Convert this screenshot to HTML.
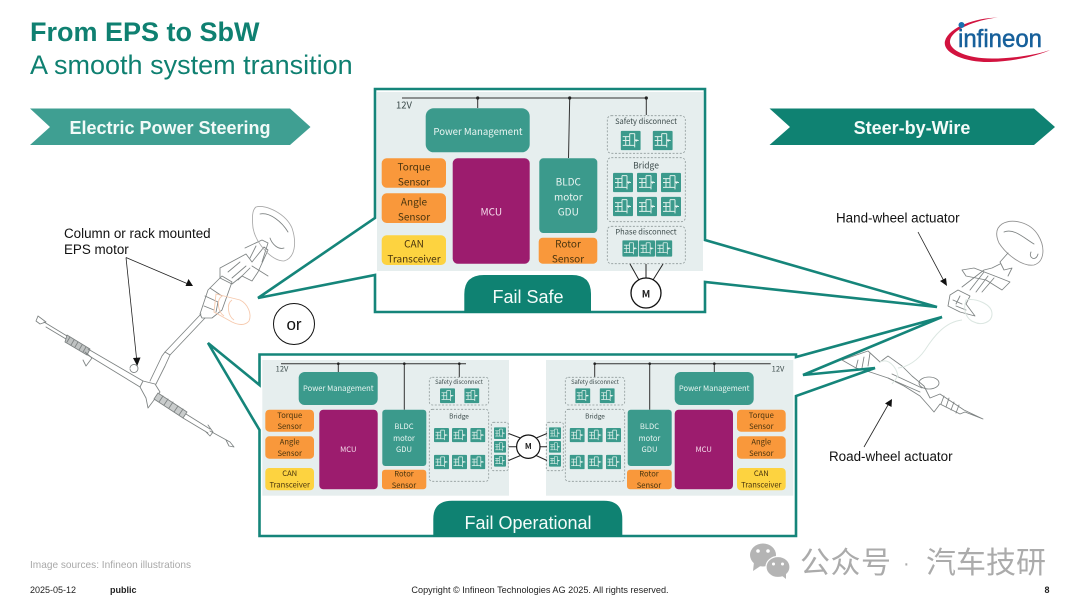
<!DOCTYPE html>
<html lang="en"><head><meta charset="utf-8"><title>From EPS to SbW</title>
<style>
html,body{margin:0;padding:0;background:#fff;width:1080px;height:606px;overflow:hidden}
svg{display:block}
text{font-family:"Liberation Sans","Noto Sans CJK SC",sans-serif}
.n text,text.n{font-family:"Noto Sans CJK SC","Liberation Sans",sans-serif;text-anchor:middle;dominant-baseline:central}
.w{fill:#eaf5f2}.k{fill:#4a3410}.d{fill:#3b4a4a}
.fr{fill:none;stroke:#15857a;stroke-width:2.6;stroke-linejoin:miter}
.box{fill:none;stroke:#8f9a9a;stroke-width:.8;stroke-dasharray:2 1.6}
.bus{stroke:#333;stroke-width:1;fill:none}
.m{fill:none;stroke:#7d8282;stroke-width:.85;stroke-linecap:round;stroke-linejoin:round}
.a{stroke:#222;stroke-width:.8;fill:none}
</style></head><body>
<svg width="1080" height="606" viewBox="0 0 1080 606" xmlns="http://www.w3.org/2000/svg">
<defs>
<filter id="bl" x="-2%" y="-2%" width="104%" height="104%"><feGaussianBlur stdDeviation=".3"/></filter>
<filter id="bm" x="-2%" y="-2%" width="104%" height="104%"><feGaussianBlur stdDeviation=".3"/></filter>
<symbol id="f" viewBox="0 0 20 20" preserveAspectRatio="none">
<rect width="20" height="20" rx="1.5" fill="#3a9a8c"/>
<path d="M2 6H9V3M9 3H14M14 3V17M2 10H9M2 15H14M9 6V15M14 10H18M5 6V15" stroke="#dff0ea" stroke-width="1" fill="none"/>
<path d="M14 9L17 9L15.5 11.5Z" fill="#eaf5f2"/>
</symbol>
</defs>

<rect width="1080" height="606" fill="#fff"/>

<!-- Title -->
<text x="30" y="41" font-size="27" font-weight="700" fill="#0f8071">From EPS to SbW</text>
<text x="30" y="74" font-size="27" fill="#0f8071">A smooth system transition</text>

<!-- Banners -->
<polygon points="30,108.5 290,108.5 310.5,127 290,145 30,145 50,127" fill="#3f9f92"/>
<text x="170" y="134" font-size="18" font-weight="700" fill="#f2faf8" text-anchor="middle">Electric Power Steering</text>
<polygon points="769.5,108.5 1034,108.5 1055,127 1034,145 769.5,145 790,127" fill="#0f8272"/>
<text x="912" y="134" font-size="18" font-weight="700" fill="#f4fbf9" text-anchor="middle">Steer-by-Wire</text>

<!-- Logo -->
<path d="M998 17.5C975 18 949 27 945 41C942 53 965 62.5 990 62C1015 61.5 1040 55 1050 50C1036 55 1012 58.5 992 58.5C966 58.5 949 50 950 41C951 30 975 20 998 17.5Z" fill="#d2133f"/>
<circle cx="961.5" cy="25" r="3" fill="#1a6fb0"/>
<text x="958" y="47" font-size="25" fill="#17609b" stroke="#17609b" stroke-width=".5" textLength="84" lengthAdjust="spacingAndGlyphs">infineon</text>

<!-- Left mechanical drawing -->
<g filter="url(#bm)">
<g class="m">
<path d="M38 316L46 322L40 324L36 321ZM44 322L67 336M46 327L66 339"/>
<path d="M67 335L90 349L87 355L65 342Z" fill="#bfc2c2"/>
<path d="M70 337L67 342M74 340L71 345M78 342L75 347M82 345L79 350M86 347L83 352"/>
<path d="M88 349L143 381L140 387L86 354"/>
<path d="M85 352L92 358L86 366L83 360M130 368a4 4 0 1 1 0 1"/>
<path d="M143 381L155 384L160 392L154 400L148 408L146 398L140 387"/>
<path d="M158 393L187 412L183 418L154 399Z" fill="#c9cccc"/>
<path d="M163 396L159 402M168 399L164 405M173 402L169 408M178 406L174 412M183 409L179 415"/>
<path d="M186 414L210 429M183 418L208 433M208 425L213 432L210 436L205 431M210 431L230 442L234 447L229 446L226 440"/>
<path d="M150 381L162 356L165 352L170 355L165 366L156 384"/>
<path d="M165 352L201 314M170 355L205 318"/>
<path d="M200 314L208 290L222 276L232 282L222 310L212 318L202 318Z"/>
<path d="M205 296L218 302L216 312M210 288L222 296M204 306L214 310"/>
<path d="M220 268L246 254L252 262L264 247L268 250L258 272L252 281L242 276L232 284L220 278Z"/>
<path d="M228 272L240 262M232 278L246 266M238 280L250 268"/>
<path d="M245 248L262 240L268 243L262 262M252 266L268 276M256 246L250 258"/>
<path d="M256 207C266 204 286 214 292 228C297 243 295 258 284 261C272 261 256 244 253 228C252 218 252 210 256 207Z" stroke="#a8a8a8"/>
<path d="M260 214C270 212 282 222 288 232M284 248C278 250 272 244 270 238"/>
</g>
<g fill="none" stroke="#f6c9ad" stroke-width=".9">
<path d="M216 294L240 300C248 304 252 314 249 321C245 326 238 325 232 322L214 312Z"/>
<path d="M222 296C216 300 218 312 224 316M232 300C226 304 228 316 234 320"/>
</g>

<!-- Right mechanical drawing -->
<g class="m">
<path d="M1002 224C1012 218 1030 222 1038 235C1046 248 1044 262 1034 265C1022 267 1006 254 999 243C995 234 996 228 1002 224Z" stroke="#8f8f8f"/>
<path d="M1004 232C1014 228 1024 238 1034 244M1031 252C1028 258 1036 262 1038 254"/>
<path d="M1008 253L1000 262L1004 270L1012 268L1008 276M1000 264L992 268L984 270L962 287"/>
<path d="M962 270L974 268L1000 278L1010 282L1002 290L986 280L966 276Z"/>
<path d="M970 290L984 272M976 292L988 276M982 292L994 278"/>
<path d="M950 295L958 290L970 296L966 304L975 316L960 312L948 306Z"/>
<path d="M953 300L962 304M956 306L966 310M960 296L956 304"/>
<path d="M842 360L868 351L880 362L888 356L902 366L912 376L924 386L930 398L940 394L964 410L983 419L965 412L960 414L940 404L934 412L928 405L920 396L904 386L888 378L870 372L856 368Z"/>
<ellipse cx="929" cy="383" rx="10" ry="6"/>
<path d="M888 378L920 392M892 374L922 388"/>
<path d="M944 396L941 404M949 398L946 407M954 402L951 410M959 405L956 413"/>
<path d="M858 360L856 368M864 357L862 368M870 353L868 366"/>
</g>
<g fill="none" stroke="#dbe6e1" stroke-width="1">
<path d="M966 300C976 298 992 304 992 314C992 322 982 326 974 322C968 320 962 312 966 300Z"/>
<path d="M962 320C945 322 934 336 925 350C918 360 908 367 898 368"/>
<path d="M880 362C888 358 896 366 898 376L892 384"/>
</g>
</g>

<!-- Fail Safe callout frame -->
<path class="fr" d="M375 218V89H705V240L937 307L705 282V312H375V275L258 298Z"/>

<!-- Fail Operational callout frame -->
<path class="fr" d="M259.5 385V354.5H796V357L942 317L803 375L875 368L796 396V536H259.5V430L208 343Z"/>

<!-- Fail Safe panel -->
<g filter="url(#bl)">
<rect x="377" y="92" width="326" height="179" fill="#e6eeee"/>
<path class="bus" d="M402 98H647M477.7 98V108M569.7 98L568.5 158M646.3 98V115"/>
<circle cx="477.7" cy="98" r="1.6" fill="#222"/><circle cx="569.7" cy="98" r="1.6" fill="#222"/><circle cx="646.3" cy="98" r="1.6" fill="#222"/>
<g class="n">
<text x="404" y="104.5" font-size="9.5" class="d">12V</text>
<rect x="425.7" y="108.3" width="104" height="44" rx="8" fill="#3a9a8c"/>
<text x="478" y="131" font-size="9.6" class="w">Power Management</text>
<rect x="381.7" y="158.3" width="64.3" height="29.4" rx="5" fill="#f9983a"/>
<text x="414" y="166" font-size="10" class="k">Torque</text><text x="414" y="181" font-size="10" class="k">Sensor</text>
<rect x="381.7" y="193.3" width="64.3" height="29.7" rx="5" fill="#f9983a"/>
<text x="414" y="201" font-size="10" class="k">Angle</text><text x="414" y="216" font-size="10" class="k">Sensor</text>
<rect x="381.7" y="235.3" width="64.3" height="29.7" rx="5" fill="#fdd33f"/>
<text x="414" y="243" font-size="10" class="k">CAN</text><text x="414" y="258" font-size="10" class="k">Transceiver</text>
<rect x="452.7" y="158.3" width="77" height="105.4" rx="5" fill="#9c1f6e"/>
<text x="491.3" y="211" font-size="10" fill="#f5dcec">MCU</text>
<rect x="539.3" y="158.3" width="58" height="74.7" rx="4" fill="#3a9a8c"/>
<text x="568.3" y="181" font-size="10" class="w">BLDC</text><text x="568.3" y="196" font-size="10" class="w">motor</text><text x="568.3" y="211" font-size="10" class="w">GDU</text>
<rect x="538.7" y="237.7" width="58.6" height="26" rx="4" fill="#f9983a"/>
<text x="568" y="243" font-size="10" class="k">Rotor</text><text x="568" y="258" font-size="10" class="k">Sensor</text>
<rect class="box" x="607.3" y="115.7" width="78" height="37.6" rx="4"/>
<text x="646" y="121.7" font-size="7.5" class="d">Safety disconnect</text>
<rect class="box" x="607.3" y="157.7" width="78" height="64" rx="4"/>
<text x="646" y="165.5" font-size="8.5" class="d">Bridge</text>
<rect class="box" x="607.3" y="226.3" width="78" height="37.4" rx="4"/>
<text x="646" y="232" font-size="7.5" class="d">Phase disconnect</text>
</g>
<use href="#f" x="620.7" y="130.7" width="20" height="19.6"/><use href="#f" x="652.7" y="130.7" width="20" height="19.6"/>
<use href="#f" x="613" y="172.7" width="20" height="19.6"/><use href="#f" x="637" y="172.7" width="20" height="19.6"/><use href="#f" x="661" y="172.7" width="20" height="19.6"/>
<use href="#f" x="613" y="196.7" width="20" height="19.6"/><use href="#f" x="637" y="196.7" width="20" height="19.6"/><use href="#f" x="661" y="196.7" width="20" height="19.6"/>
<use href="#f" x="622.3" y="240.3" width="16" height="16.4"/><use href="#f" x="639" y="240.3" width="16" height="16.4"/><use href="#f" x="655.7" y="240.3" width="16.6" height="16.4"/>
</g>
<path d="M464.3 313V294Q464.3 275 484 275H572Q591 275 591 294V313Z" fill="#0f8272"/>
<text x="528" y="303" font-size="18" fill="#f4fbf9" text-anchor="middle">Fail Safe</text>
<path d="M630 264L639 280M646 264V278M663 264L653 280" stroke="#222" stroke-width="1" fill="none"/>
<circle cx="646" cy="293" r="15" fill="#fff" stroke="#111" stroke-width="1.3"/>
<text class="n" x="646" y="293" font-size="10" font-weight="700" fill="#222">M</text>

<!-- Fail Operational left panel -->
<g filter="url(#bl)">
<rect x="262.3" y="360" width="246.7" height="135.7" fill="#e6eeee"/>
<path class="bus" d="M281 363.7H466M338.3 363.7V372M404.3 363.7V409.7M459.3 363.7V377.3"/>
<circle cx="338.3" cy="363.7" r="1.3" fill="#222"/><circle cx="404.3" cy="363.7" r="1.3" fill="#222"/><circle cx="459.3" cy="363.7" r="1.3" fill="#222"/>
<g class="n">
<text x="282" y="369" font-size="7.5" class="d">12V</text>
<rect x="298.7" y="372" width="79" height="33" rx="6" fill="#3a9a8c"/>
<text x="338.3" y="388.7" font-size="7.6" class="w">Power Management</text>
<rect x="265.3" y="409.7" width="48.7" height="22" rx="4" fill="#f9983a"/>
<text x="289.7" y="415.3" font-size="7.6" class="k">Torque</text><text x="289.7" y="426.7" font-size="7.6" class="k">Sensor</text>
<rect x="265.3" y="436.3" width="48.7" height="22.4" rx="4" fill="#f9983a"/>
<text x="289.7" y="442" font-size="7.6" class="k">Angle</text><text x="289.7" y="453.3" font-size="7.6" class="k">Sensor</text>
<rect x="265.3" y="468" width="48.7" height="22.3" rx="4" fill="#fdd33f"/>
<text x="289.7" y="473.7" font-size="7.6" class="k">CAN</text><text x="289.7" y="485" font-size="7.6" class="k">Transceiver</text>
<rect x="319.3" y="409.7" width="58.4" height="79.6" rx="4" fill="#9c1f6e"/>
<text x="348.3" y="449.7" font-size="7.6" fill="#f5dcec">MCU</text>
<rect x="382.3" y="409.7" width="44" height="56.3" rx="3" fill="#3a9a8c"/>
<text x="404" y="426.7" font-size="7.6" class="w">BLDC</text><text x="404" y="438.3" font-size="7.6" class="w">motor</text><text x="404" y="449.7" font-size="7.6" class="w">GDU</text>
<rect x="382" y="469.7" width="44.3" height="19.6" rx="3" fill="#f9983a"/>
<text x="404" y="474" font-size="7.6" class="k">Rotor</text><text x="404" y="485.3" font-size="7.6" class="k">Sensor</text>
<rect class="box" x="429.3" y="377.3" width="59.4" height="27.7" rx="3"/>
<text x="459" y="381.7" font-size="5.8" class="d">Safety disconnect</text>
<rect class="box" x="429.3" y="409.3" width="59.4" height="72" rx="3"/>
<text x="459" y="415.3" font-size="6.5" class="d">Bridge</text>
<rect class="box" x="491.3" y="422.3" width="17" height="48.4" rx="2"/>
</g>
<use href="#f" x="440" y="388.3" width="15" height="15"/><use href="#f" x="464.3" y="388.3" width="15" height="15"/>
<use href="#f" x="434" y="428" width="15" height="14.3"/><use href="#f" x="452" y="428" width="15" height="14.3"/><use href="#f" x="470.3" y="428" width="15" height="14.3"/>
<use href="#f" x="434" y="454.7" width="15" height="14.6"/><use href="#f" x="452" y="454.7" width="15" height="14.6"/><use href="#f" x="470.3" y="454.7" width="15" height="14.6"/>
<use href="#f" x="494" y="427.3" width="12" height="11.7"/><use href="#f" x="494" y="441" width="12" height="11.7"/><use href="#f" x="494" y="454.7" width="12" height="12"/>
</g>

<!-- Fail Operational right panel -->
<g filter="url(#bl)">
<rect x="546" y="360" width="247.3" height="135.7" fill="#e6eeee"/>
<path class="bus" d="M594.7 363.7H770.7M594.7 363.7V377.3M649.7 363.7V409.7M714.3 363.7V372"/>
<circle cx="594.7" cy="363.7" r="1.3" fill="#222"/><circle cx="649.7" cy="363.7" r="1.3" fill="#222"/><circle cx="714.3" cy="363.7" r="1.3" fill="#222"/>
<g class="n">
<text x="778" y="369" font-size="7.5" class="d">12V</text>
<rect x="674.7" y="372" width="79" height="33" rx="6" fill="#3a9a8c"/>
<text x="714.2" y="388.7" font-size="7.6" class="w">Power Management</text>
<rect x="737" y="409.7" width="48.7" height="22" rx="4" fill="#f9983a"/>
<text x="761.3" y="415.3" font-size="7.6" class="k">Torque</text><text x="761.3" y="426.7" font-size="7.6" class="k">Sensor</text>
<rect x="737" y="436.3" width="48.7" height="22.4" rx="4" fill="#f9983a"/>
<text x="761.3" y="442" font-size="7.6" class="k">Angle</text><text x="761.3" y="453.3" font-size="7.6" class="k">Sensor</text>
<rect x="737" y="468" width="48.7" height="22.3" rx="4" fill="#fdd33f"/>
<text x="761.3" y="473.7" font-size="7.6" class="k">CAN</text><text x="761.3" y="485" font-size="7.6" class="k">Transceiver</text>
<rect x="674.7" y="409.7" width="58.3" height="79.6" rx="4" fill="#9c1f6e"/>
<text x="703.7" y="449.7" font-size="7.6" fill="#f5dcec">MCU</text>
<rect x="627.7" y="409.7" width="44" height="56.3" rx="3" fill="#3a9a8c"/>
<text x="649.5" y="426.7" font-size="7.6" class="w">BLDC</text><text x="649.5" y="438.3" font-size="7.6" class="w">motor</text><text x="649.5" y="449.7" font-size="7.6" class="w">GDU</text>
<rect x="627" y="469.7" width="44.7" height="19.6" rx="3" fill="#f9983a"/>
<text x="649" y="474" font-size="7.6" class="k">Rotor</text><text x="649" y="485.3" font-size="7.6" class="k">Sensor</text>
<rect class="box" x="565.3" y="377.3" width="59.4" height="27.7" rx="3"/>
<text x="595" y="381.7" font-size="5.8" class="d">Safety disconnect</text>
<rect class="box" x="565.3" y="409.3" width="59.4" height="72" rx="3"/>
<text x="595" y="415.3" font-size="6.5" class="d">Bridge</text>
<rect class="box" x="546.3" y="422.3" width="17" height="48.4" rx="2"/>
</g>
<use href="#f" x="575.3" y="388.3" width="15" height="15"/><use href="#f" x="599.7" y="388.3" width="15" height="15"/>
<use href="#f" x="569.7" y="428" width="15" height="14.3"/><use href="#f" x="587.7" y="428" width="15" height="14.3"/><use href="#f" x="606" y="428" width="15" height="14.3"/>
<use href="#f" x="569.7" y="454.7" width="15" height="14.6"/><use href="#f" x="587.7" y="454.7" width="15" height="14.6"/><use href="#f" x="606" y="454.7" width="15" height="14.6"/>
<use href="#f" x="549" y="427.3" width="12" height="11.7"/><use href="#f" x="549" y="441" width="12" height="11.7"/><use href="#f" x="549" y="454.7" width="12" height="12"/>
</g>

<!-- Central motor -->
<path d="M508.5 433.5L521.7 438.5M508.5 446.7H516.7M508.5 460.5L521.7 455M547 433.5L535 438.5M547 446.7H540M547 460.5L535 455" stroke="#222" stroke-width="1" fill="none"/>
<circle cx="528.3" cy="446.7" r="11.7" fill="#fff" stroke="#111" stroke-width="1.2"/>
<text class="n" x="528.3" y="446.7" font-size="8" font-weight="700" fill="#222">M</text>

<path d="M433.3 537V519Q433.3 500.7 452 500.7H604Q622.3 500.7 622.3 519V537Z" fill="#0f8272"/>
<text x="528" y="529" font-size="18" fill="#f4fbf9" text-anchor="middle">Fail Operational</text>

<!-- or -->
<circle cx="294" cy="324" r="20.5" fill="#fff" stroke="#111" stroke-width="1"/>
<text x="294" y="330" font-size="17" fill="#111" text-anchor="middle">or</text>

<!-- Labels -->
<text x="64" y="238" font-size="13.4" fill="#111">Column or rack mounted</text>
<text x="64" y="254" font-size="13.4" fill="#111">EPS motor</text>
<text x="836" y="222.5" font-size="13.4" fill="#111">Hand-wheel actuator</text>
<text x="829" y="461" font-size="13.4" fill="#111">Road-wheel actuator</text>

<!-- Label arrows -->
<path class="a" d="M126 257.5L187 283.5M126 257.5L136.5 358"/>
<polygon points="193,286 185.5,286 188.5,279" fill="#111"/>
<polygon points="137.2,366 133,358 140.5,357.5" fill="#111"/>
<path class="a" d="M918 232L944 281"/>
<polygon points="947,286 940,281 946,278" fill="#111"/>
<path class="a" d="M864 447L888 405"/>
<polygon points="892,399 891.5,407 885,403.5" fill="#111"/>

<!-- Footer -->
<text x="30" y="568" font-size="10.1" fill="#a8a8a8">Image sources: Infineon illustrations</text>
<text x="30" y="593" font-size="9" fill="#222">2025-05-12</text>
<text x="110" y="593" font-size="9" font-weight="700" fill="#222">public</text>
<text x="540" y="593" font-size="9.15" fill="#222" text-anchor="middle">Copyright © Infineon Technologies AG 2025. All rights reserved.</text>
<text x="1047" y="593" font-size="9" font-weight="700" fill="#222" text-anchor="middle">8</text>

<!-- Watermark -->
<g fill="#b4b4b4">
<ellipse cx="763" cy="555" rx="13" ry="11.5"/>
<polygon points="754,562 753,571 762,565"/>
<ellipse cx="778" cy="567" rx="12" ry="10.5" stroke="#fff" stroke-width="1.2"/>
<polygon points="781,575 786,579 786,572"/>
</g>
<g fill="#fff"><circle cx="758" cy="551" r="1.8"/><circle cx="768" cy="551" r="1.8"/><circle cx="773.5" cy="564" r="1.5"/><circle cx="782.5" cy="564" r="1.5"/></g>
<g style='font-family:"Noto Sans CJK SC","Liberation Sans",sans-serif;' fill="#ababab" font-size="30">
<text x="800" y="573" style='font-family:"Noto Sans CJK SC","Liberation Sans",sans-serif;' textLength="91">公众号</text>
<text x="903" y="570" style='font-family:"Liberation Sans",sans-serif;' font-size="20">·</text>
<text x="926" y="573" style='font-family:"Noto Sans CJK SC","Liberation Sans",sans-serif;' textLength="120">汽车技研</text>
</g>
</svg>
</body></html>
